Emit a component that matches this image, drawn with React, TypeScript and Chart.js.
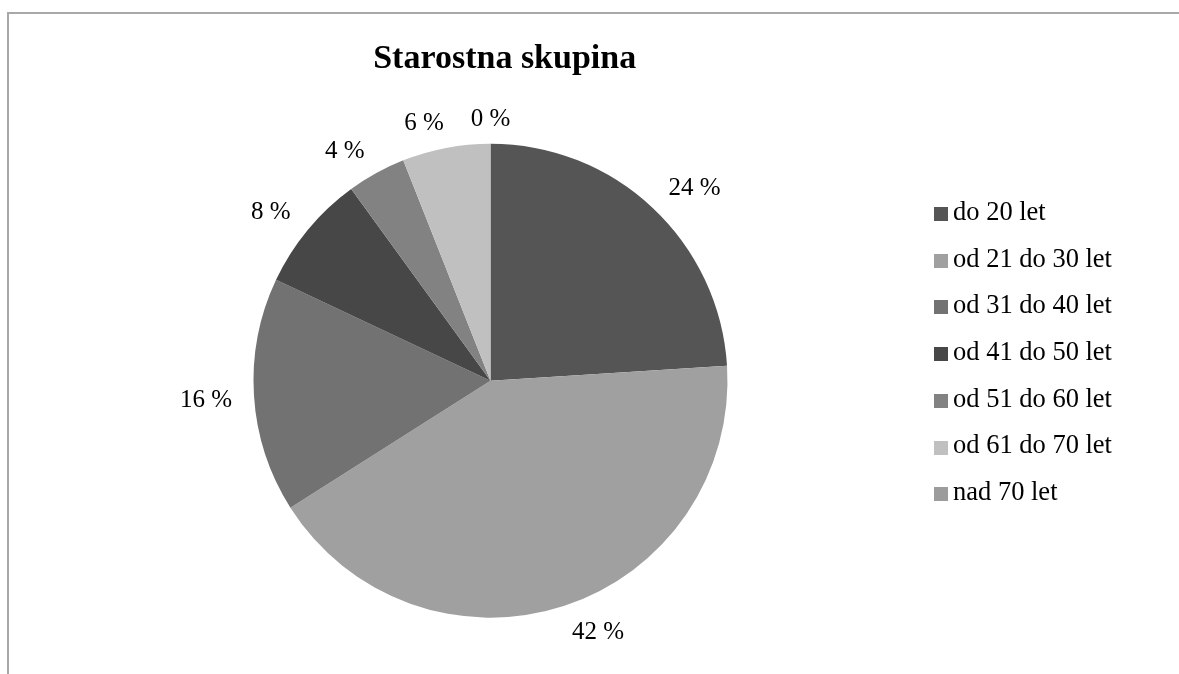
import React, { useEffect, useRef } from "react";
import { Chart, registerables } from "chart.js";

Chart.register(...registerables);

const TITLE = "Starostna skupina";
const categories = [
  "do 20 let",
  "od 21 do 30 let",
  "od 31 do 40 let",
  "od 41 do 50 let",
  "od 51 do 60 let",
  "od 61 do 70 let",
  "nad 70 let",
];
const shares = [24, 42, 16, 8, 4, 6, 0];
const sliceColors = ["#555555", "#a0a0a0", "#727272", "#474747", "#828282", "#c0c0c0", "#9c9c9c"];

const FONT = '"Liberation Serif", "Times New Roman", serif';

const clamp1 = (v: number) => Math.max(-1, Math.min(1, v));

const labelPlugin = {
  id: "outsideLabels",
  afterDatasetsDraw(chart: any) {
    const ctx = chart.ctx;
    const meta = chart.getDatasetMeta(0);
    const values = chart.data.datasets[0].data as number[];
    ctx.save();
    ctx.font = `25px ${FONT}`;
    ctx.fillStyle = "#000";
    ctx.textAlign = "center";
    ctx.textBaseline = "middle";
    meta.data.forEach((arc: any, i: number) => {
      const { x, y, startAngle, endAngle, outerRadius } = arc.getProps(
        ["x", "y", "startAngle", "endAngle", "outerRadius"],
        true
      );
      const mid = (startAngle + endAngle) / 2;
      const text = `${values[i]} %`;
      const w = ctx.measureText(text).width;
      const c = Math.cos(mid);
      const s = Math.sin(mid);
      const gap = 20;
      const cx = x + c * (outerRadius + gap) + (w / 2 + 2) * clamp1(c * 4.5);
      const cy = y + s * (outerRadius + gap) + 6 * clamp1(s * 4.5) + 1.5;
      ctx.fillText(text, cx, cy);
    });
    ctx.restore();
  },
};

const titleLegendPlugin = {
  id: "titleLegend",
  afterDraw(chart: any) {
    const ctx = chart.ctx;
    const ds = chart.data.datasets[0];
    ctx.save();
    // title
    ctx.font = `bold 34px ${FONT}`;
    ctx.fillStyle = "#000";
    ctx.textAlign = "center";
    ctx.textBaseline = "alphabetic";
    ctx.fillText(TITLE, 504.7, 67.5);
    // legend
    ctx.font = `26.5px ${FONT}`;
    ctx.textAlign = "left";
    ctx.textBaseline = "middle";
    (chart.data.labels as string[]).forEach((lab, i) => {
      const cy = 214 + i * 46.7;
      ctx.fillStyle = ds.backgroundColor[i];
      ctx.fillRect(934, Math.round(cy - 7), 14, 14);
      ctx.fillStyle = "#000";
      ctx.fillText(lab, 953, cy - 1);
    });
    ctx.restore();
  },
};

export default function App() {
  const canvasRef = useRef<HTMLCanvasElement | null>(null);

  useEffect(() => {
    if (!canvasRef.current) return;
    const chart = new Chart(canvasRef.current, {
      type: "pie",
      data: {
        labels: categories,
        datasets: [
          {
            data: shares,
            backgroundColor: sliceColors,
            borderWidth: 0,
          },
        ],
      },
      options: {
        responsive: false,
        animation: false,
        layout: {
          padding: { left: 253.5, right: 451.5, top: 143.7, bottom: 56.3 },
        },
        plugins: {
          legend: { display: false },
          tooltip: { enabled: false },
          title: { display: false },
        },
      },
      plugins: [labelPlugin, titleLegendPlugin],
    });
    return () => chart.destroy();
  }, []);

  return (
    <div style={{ position: "absolute", left: 0, top: 0, width: 1179, height: 674, background: "#fff", overflow: "hidden" }}>
      <div
        style={{
          position: "absolute",
          left: 7,
          top: 12,
          right: -10,
          bottom: -10,
          borderTop: "2px solid #a8a8a8",
          borderLeft: "2px solid #a8a8a8",
        }}
      />
      <canvas
        ref={canvasRef}
        width={1179}
        height={674}
        style={{ position: "absolute", left: 0, top: 0, display: "block" }}
      />
    </div>
  );
}
